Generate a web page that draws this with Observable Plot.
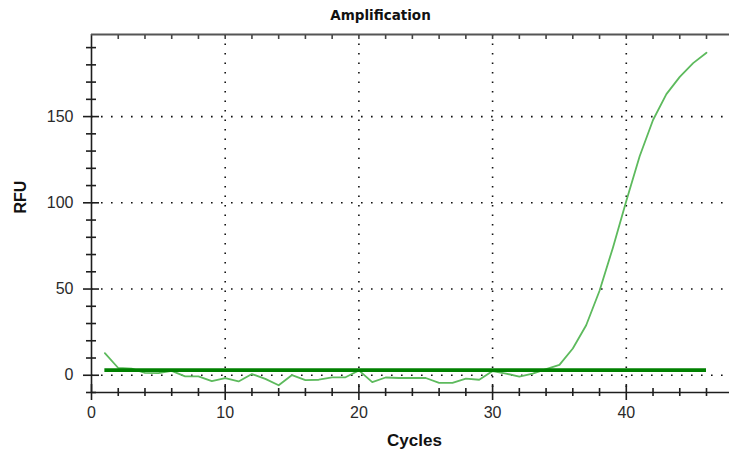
<!DOCTYPE html>
<html>
<head>
<meta charset="utf-8">
<script src="https://cdn.jsdelivr.net/npm/d3@7"></script>
<script src="https://cdn.jsdelivr.net/npm/@observablehq/plot@0.6"></script>
<style>
  html, body { margin: 0; padding: 0; background: #fff; }
  #chart svg { display: block; }
</style>
</head>
<body>
<div id="chart"></div>
<script>
const titleText = "Amplification";
const xLabel = "Cycles";
const yLabel = "RFU";

const cycles = [1, 2, 3, 4, 5, 6, 7, 8, 9, 10, 11, 12, 13, 14, 15, 16, 17, 18, 19, 20,
  21, 22, 23, 24, 25, 26, 27, 28, 29, 30, 31, 32, 33, 34, 35, 36, 37, 38, 39, 40,
  41, 42, 43, 44, 45, 46];
const rfu = [12.8, 4.2, 3.8, 1.4, 1.2, 2.5, -0.6, -0.6, -3.4, -1.6, -3.6, 0.7, -2.1, -5.8, 0.1, -2.8, -2.6, -1.2, -1.2, 2.8,
  -4.0, -1.3, -1.6, -1.6, -1.6, -4.4, -4.4, -2.0, -2.6, 2.4, 1.0, -0.8, 1.0, 3.6, 6.0, 15.5, 29, 49, 74, 101,
  127, 148, 163, 173, 181, 187];
const threshold = 3.0;
const thresholdSpan = [1, 46];

const xMajorTicks = [0, 10, 20, 30, 40];
const xMinorTicks = [2, 4, 6, 8, 12, 14, 16, 18, 22, 24, 26, 28, 32, 34, 36, 38, 42, 44, 46];
const xTopTicks = [2, 4, 6, 8, 10, 12, 14, 16, 18, 20, 22, 24, 26, 28, 30, 32, 34, 36, 38, 40, 42, 44, 46];
const xGrid = [10, 20, 30, 40];
const yMajorTicks = [0, 50, 100, 150];
const yMinorTicks = [-10, 10, 20, 30, 40, 60, 70, 80, 90, 110, 120, 130, 140, 160, 170, 180, 190];
const yGrid = [0, 50, 100, 150];
const xDomain = [0, 47.72];
const yDomain = [-10, 197.6];

const data = cycles.map((c, i) => ({cycle: c, rfu: rfu[i]}));

const axisColor = "#1e1e1e";
const textColor = "#2a2a2a";

const chart = Plot.plot({
  width: 729,
  height: 454,
  marginLeft: 91,
  marginRight: 0,
  marginTop: 34,
  marginBottom: 62,
  style: {fontFamily: "'Liberation Sans', Arial, sans-serif", fontSize: "16px", color: textColor, background: "#fff"},
  x: {domain: xDomain},
  y: {domain: yDomain},
  marks: [
    Plot.gridX(xGrid, {stroke: "#111", strokeOpacity: 1, strokeWidth: 1.6, strokeDasharray: "1.6,7.9"}),
    Plot.gridY(yGrid, {stroke: "#111", strokeOpacity: 1, strokeWidth: 1.6, strokeDasharray: "1.6,8.4"}),
    // frame lines
    Plot.ruleX([xDomain[0]], {stroke: axisColor, strokeWidth: 1.6}),
    Plot.ruleY([yDomain[0]], {stroke: axisColor, strokeWidth: 1.6}),
    Plot.ruleY([yDomain[1]], {stroke: "#555", strokeWidth: 2.2}),
    // bottom ticks crossing the axis
    Plot.axisX(xMajorTicks, {anchor: "bottom", tickSize: 16, dy: -8, fill: "none", stroke: axisColor, strokeWidth: 1.6, label: null}),
    Plot.axisX(xMinorTicks, {anchor: "bottom", tickSize: 8, dy: -4, fill: "none", stroke: axisColor, strokeWidth: 1.6, label: null}),
    Plot.axisX(xMajorTicks, {anchor: "bottom", tickSize: 0, tickPadding: 14, fill: textColor, label: null, fontSize: 16}),
    // top ticks
    Plot.axisX(xTopTicks, {anchor: "top", tickSize: 4, dy: 4, fill: "none", stroke: "#444", strokeWidth: 1.6, label: null}),
    // left ticks crossing the axis
    Plot.axisY(yMajorTicks, {anchor: "left", tickSize: 16, dx: 8, fill: "none", stroke: axisColor, strokeWidth: 1.6, label: null}),
    Plot.axisY(yMinorTicks, {anchor: "left", tickSize: 10, dx: 5, fill: "none", stroke: axisColor, strokeWidth: 1.6, label: null}),
    Plot.axisY(yMajorTicks, {anchor: "left", tickSize: 0, tickPadding: 18, fill: textColor, label: null, fontSize: 16}),
    // data
    Plot.line(data, {x: "cycle", y: "rfu", stroke: "#5dba5d", strokeWidth: 1.8}),
    Plot.ruleY([threshold], {x1: thresholdSpan[0], x2: thresholdSpan[1], stroke: "#008000", strokeWidth: 3.6}),
    // titles
    Plot.text([titleText], {text: d => d, frameAnchor: "top", lineAnchor: "middle", dy: -18.5, dx: -30, fontWeight: "bold", fontSize: 13.5, fontFamily: "'DejaVu Sans', Verdana, sans-serif", fill: "#111"}),
    Plot.text([xLabel], {text: d => d, frameAnchor: "bottom", lineAnchor: "middle", dy: 48.3, dx: 4, fontWeight: "bold", fontSize: 17, fill: "#111"}),
    Plot.text([yLabel], {text: d => d, frameAnchor: "left", lineAnchor: "middle", dx: -71, rotate: -90, fontWeight: "bold", fontSize: 16, fill: "#111"})
  ]
});
document.getElementById("chart").appendChild(chart);
</script>
</body>
</html>
